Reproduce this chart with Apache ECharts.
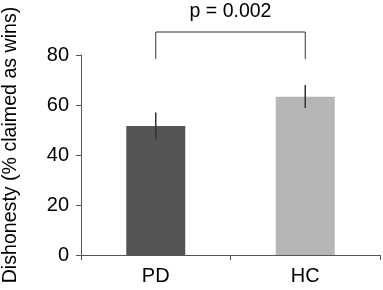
<!DOCTYPE html>
<html><head><meta charset="utf-8">
<script src="https://cdn.jsdelivr.net/npm/echarts@6/dist/echarts.min.js"></script>
<style>html,body{margin:0;padding:0;background:#fff}#c{width:383px;height:290px}</style>
</head><body><div id="c"></div>
<script>
var categories = ['PD', 'HC'];
var means = [51.6, 63.3];
var errLow = [46.3, 58.8];
var errHigh = [57.0, 68.0];
var barColors = ['#565553', '#b5b7b5'];
var yTicks = [0, 20, 40, 60, 80];
var pText = 'p = 0.002';
var bracketTop = 89.2;
var bracketBottom = 78.4;
var yName = 'Dishonesty (% claimed as wins)';

var font = 'Liberation Sans, Arial, sans-serif';
var chart = echarts.init(document.getElementById('c'), null, {renderer: 'canvas'});
chart.setOption({
  animation: false,
  grid: {left: 81, right: 3, top: 55, bottom: 35, containLabel: false},
  xAxis: {
    type: 'category', data: categories,
    axisLine: {lineStyle: {color: '#555', width: 1}},
    axisTick: {show: true, length: 5, lineStyle: {color: '#555'}},
    axisLabel: {color: '#000', fontSize: 20, fontFamily: font, margin: 11}
  },
  yAxis: {
    type: 'value', min: yTicks[0], max: yTicks[yTicks.length - 1], interval: 20,
    axisLine: {show: true, lineStyle: {color: '#555', width: 1}},
    axisTick: {show: true, length: 5, lineStyle: {color: '#555'}},
    splitLine: {show: false},
    axisLabel: {color: '#000', fontSize: 20, fontFamily: font, margin: 12}
  },
  graphic: [{
    type: 'text', x: 11, y: 145, rotation: Math.PI / 2,
    style: {text: yName, fill: '#000', font: '19.6px ' + font, textAlign: 'center', textVerticalAlign: 'middle'}
  }],
  series: [{
    type: 'bar', barWidth: 59,
    data: means.map(function (v, i) { return {value: v, itemStyle: {color: barColors[i]}}; })
  }, {
    type: 'custom', clip: false,
    data: categories.map(function (c, i) { return [i, errLow[i], errHigh[i]]; }),
    renderItem: function (params, api) {
      var lo = api.coord([api.value(0), api.value(1)]);
      var hi = api.coord([api.value(0), api.value(2)]);
      return {type: 'line', shape: {x1: lo[0], y1: lo[1], x2: hi[0], y2: hi[1]}, style: {stroke: '#333', lineWidth: 1.5}};
    },
    z: 5
  }, {
    type: 'custom', clip: false,
    data: [[0, 1, bracketBottom, bracketTop]],
    renderItem: function (params, api) {
      var a = api.coord([api.value(0), api.value(2)]);
      var b = api.coord([api.value(0), api.value(3)]);
      var c = api.coord([api.value(1), api.value(3)]);
      var d = api.coord([api.value(1), api.value(2)]);
      return {type: 'group', children: [
        {type: 'polyline', shape: {points: [a, b, c, d]}, style: {stroke: '#333', lineWidth: 1, fill: null}},
        {type: 'text', x: (b[0] + c[0]) / 2, y: b[1] - 20, style: {text: pText, fill: '#000', font: '19.5px ' + font, textAlign: 'center', textVerticalAlign: 'middle'}}
      ]};
    },
    z: 5
  }]
});
</script></body></html>
